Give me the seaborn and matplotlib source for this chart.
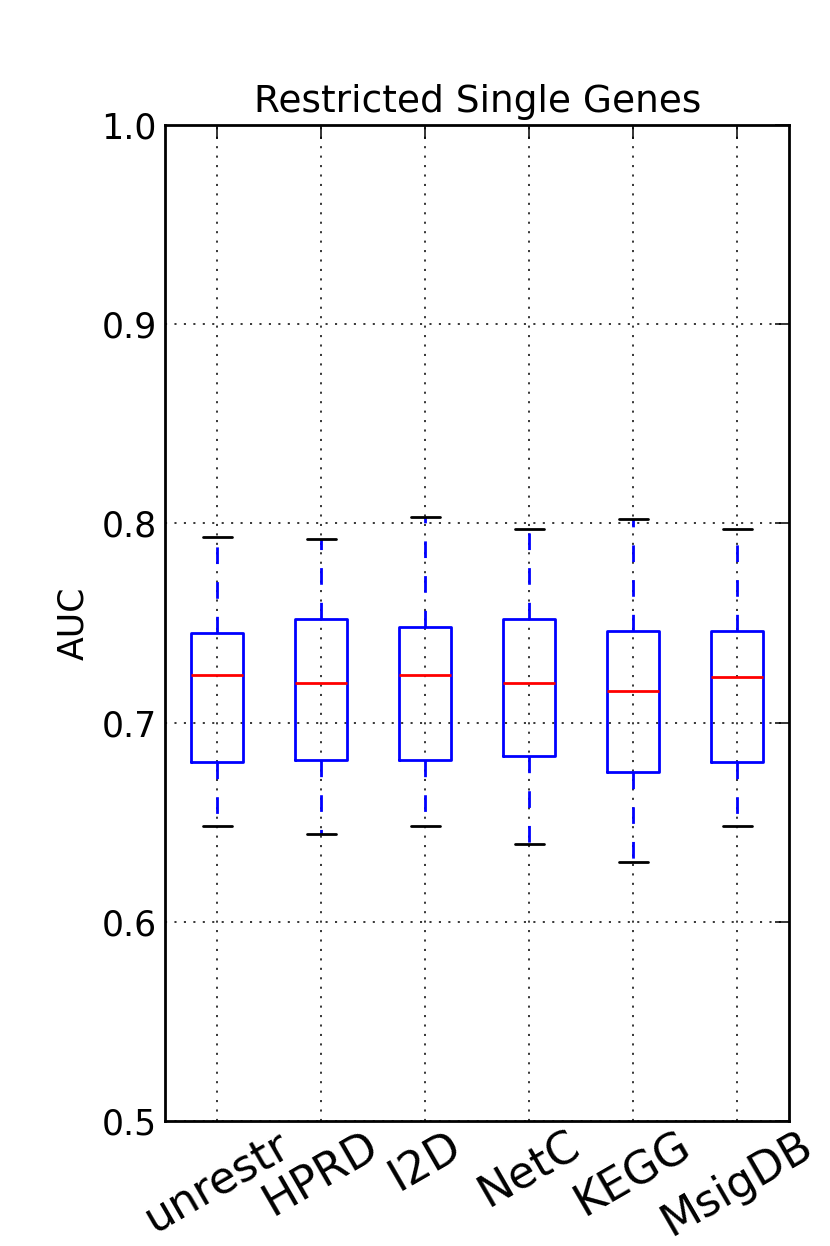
import numpy as np
import pandas as pd
import matplotlib
matplotlib.use("Agg")
import matplotlib.pyplot as plt
import seaborn as sns

# ---- data ----
categories = ["unrestr", "HPRD", "I2D", "NetC", "KEGG", "MsigDB"]
whisker_low = [0.648, 0.644, 0.648, 0.639, 0.630, 0.648]
q1 = [0.680, 0.681, 0.681, 0.683, 0.675, 0.680]
median = [0.724, 0.720, 0.724, 0.720, 0.716, 0.723]
q3 = [0.745, 0.752, 0.748, 0.752, 0.746, 0.746]
whisker_high = [0.793, 0.792, 0.803, 0.797, 0.802, 0.797]
yticks = [0.5, 0.6, 0.7, 0.8, 0.9, 1.0]
title = "Restricted Single Genes"
ylabel = "AUC"

# five summary points per group reproduce the box statistics exactly
rows = []
for c, lo, a, m, b, hi in zip(categories, whisker_low, q1, median, q3, whisker_high):
    for v in (lo, a, m, b, hi):
        rows.append({"group": c, "AUC": v})
df = pd.DataFrame(rows)

sns.set_style("white")
plt.rcParams["font.family"] = ["DejaVu Sans"]
plt.rcParams["text.color"] = "black"
plt.rcParams["axes.labelcolor"] = "black"
plt.rcParams["lines.scale_dashes"] = False

fig = plt.figure(figsize=(8.3, 12.46), dpi=100)
ax = fig.add_axes([0.199, 0.1003, 0.752, 0.7994])

lw = 2.0
sns.boxplot(
    data=df, x="group", y="AUC", order=categories, ax=ax,
    width=0.5, whis=1.5, showfliers=False, fill=False,
    linewidth=lw, linecolor="blue",
    boxprops=dict(color="blue", linewidth=lw),
    medianprops=dict(color="red", linewidth=lw),
    whiskerprops=dict(color="blue", linestyle=(0, (12, 13)), linewidth=lw),
    capprops=dict(color="black", linewidth=lw),
    capwidths=0.28,
)

ax.set_ylim(0.5, 1.0)
ax.set_xlim(-0.5, len(categories) - 0.5)
ax.set_yticks(yticks)
ax.set_yticklabels([f"{t:.1f}" for t in yticks])
ax.set_xticks(range(len(categories)))
ax.set_xticklabels(categories, rotation=30, ha="center", fontsize=32)

ax.grid(True, color="black", linestyle=(0, (1.5, 5.3)), linewidth=1.1)
ax.set_axisbelow(True)

ax.tick_params(axis="both", which="major", direction="in", length=10,
               width=1.1, top=True, right=True, colors="black")
ax.tick_params(axis="y", labelsize=25, pad=6)
ax.tick_params(axis="x", pad=2)

for s in ax.spines.values():
    s.set_visible(True)
    s.set_color("black")
    s.set_linewidth(2.0)

ax.set_xlabel("")
ax.set_ylabel(ylabel, fontsize=25, labelpad=8, color="black")
ax.set_title(title, fontsize=27, pad=9, color="black")

fig.savefig("out.png", dpi=100, facecolor="white")
